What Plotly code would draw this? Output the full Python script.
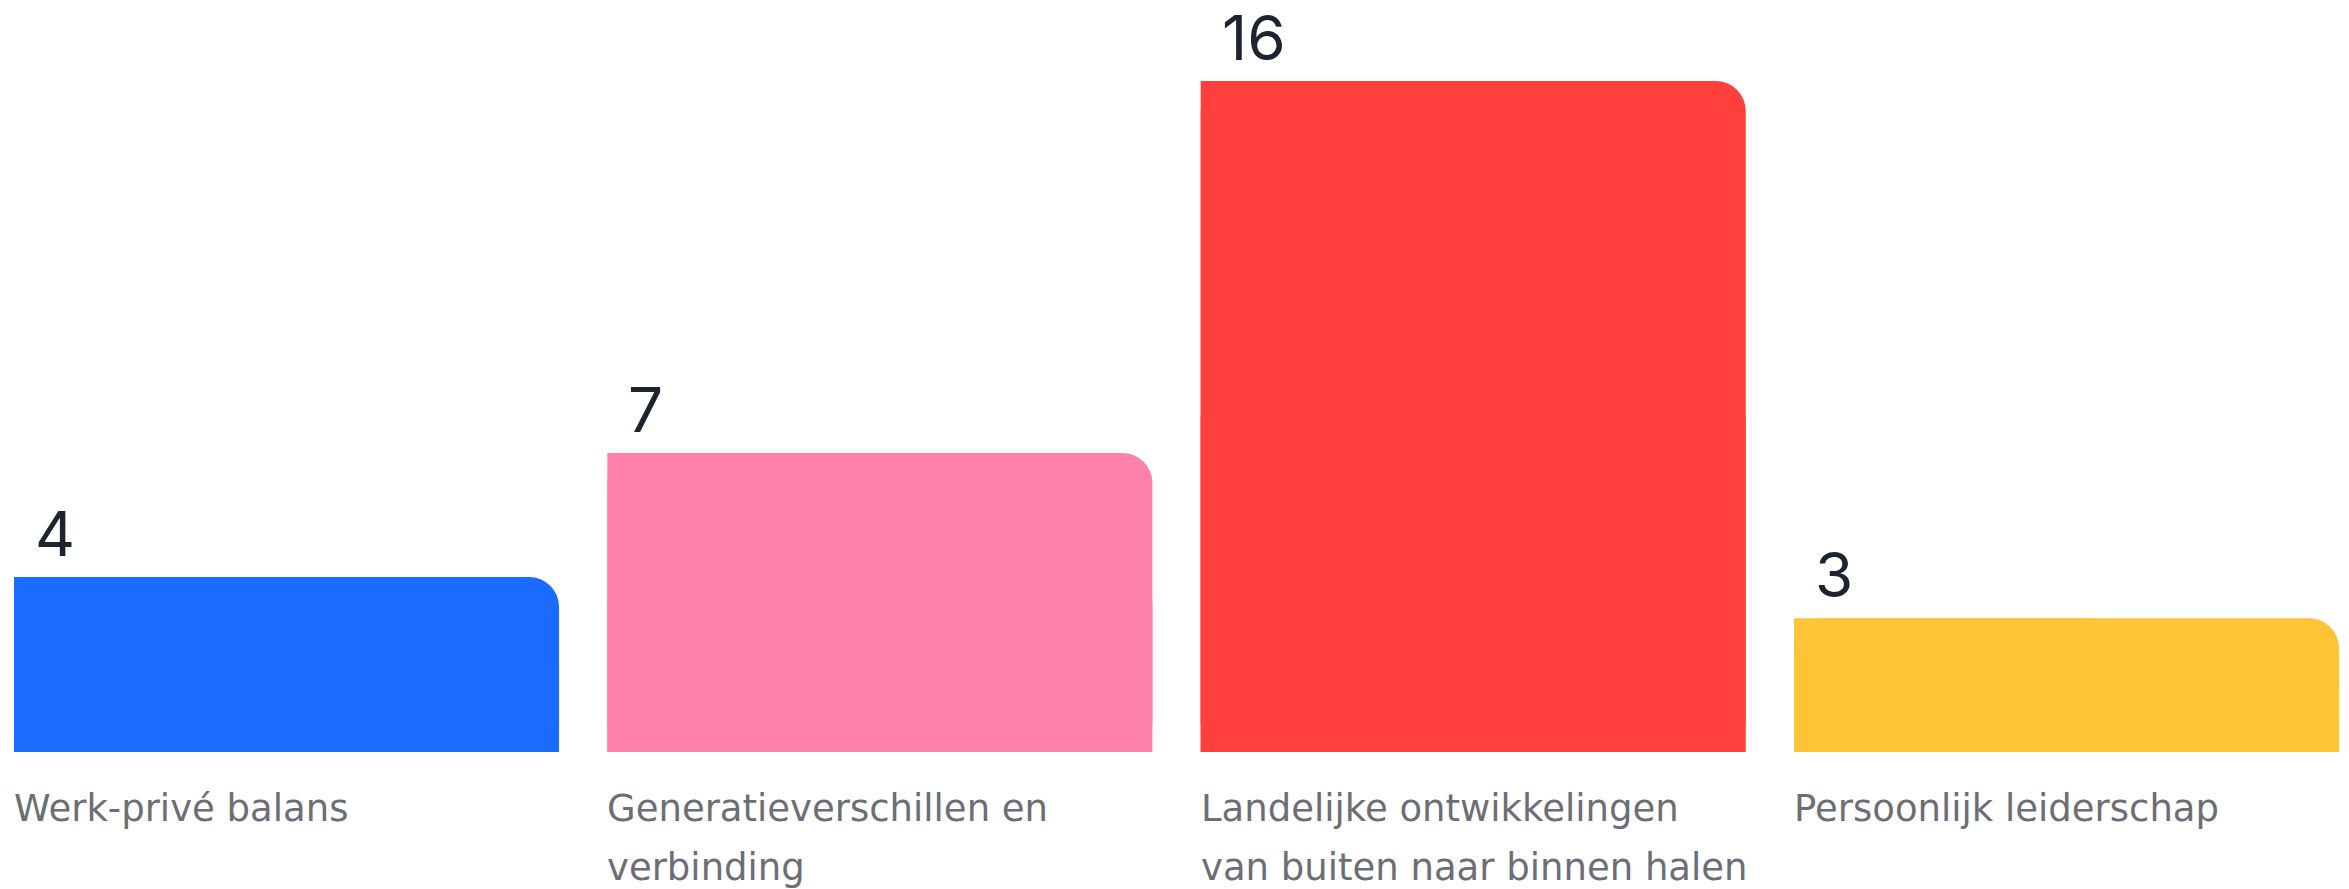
import textwrap
import plotly.graph_objects as go

categories = [
    "Werk-privé balans",
    "Generatieverschillen en verbinding",
    "Landelijke ontwikkelingen van buiten naar binnen halen",
    "Persoonlijk leiderschap",
]
values = [4, 7, 16, 3]
colors = ["#196CFF", "#FF80AB", "#FF403D", "#FFC336"]

xs = list(range(len(categories)))
BAR_W = 0.9186
HALF = BAR_W / 2
BASE = -0.235  # small minimum bar stub below zero, as in the reference
n = len(xs)
heights = [v - BASE for v in values]

fig = go.Figure()
# main bars with rounded corners
fig.add_trace(go.Bar(
    x=xs, y=heights, base=[BASE] * n,
    width=[BAR_W] * n, offset=[-HALF] * n,
    marker=dict(color=colors, line=dict(width=0), cornerradius=30),
    hoverinfo="skip", showlegend=False,
))
# square lower half (keeps bottom corners square)
fig.add_trace(go.Bar(
    x=xs, y=[h / 2 for h in heights], base=[BASE] * n,
    width=[BAR_W] * n, offset=[-HALF] * n,
    marker=dict(color=colors, line=dict(width=0)),
    hoverinfo="skip", showlegend=False,
))
# square left half (keeps top-left corner square)
fig.add_trace(go.Bar(
    x=xs, y=heights, base=[BASE] * n,
    width=[0.5] * n, offset=[-HALF] * n,
    marker=dict(color=colors, line=dict(width=0)),
    hoverinfo="skip", showlegend=False,
))

annotations = []
for i, (v, cat) in enumerate(zip(values, categories)):
    annotations.append(dict(
        x=xs[i] - HALF, y=v, xref="x", yref="y",
        text=str(v), showarrow=False, xanchor="left", yanchor="bottom",
        xshift=20, yshift=5, borderpad=0,
        font=dict(family="Inter, Liberation Sans, sans-serif", size=62, color="#1E2330"),
    ))
    lines = textwrap.wrap(cat, 28)
    for j, line in enumerate(lines):
        annotations.append(dict(
            x=xs[i] - HALF, y=0, xref="x", yref="y",
            text=line, showarrow=False, xanchor="left", yanchor="top",
            xshift=-2, yshift=-43 - 59 * j,
            font=dict(family="DejaVu Sans, Inter, sans-serif", size=37, color="#6C6E76"),
        ))

fig.update_layout(
    width=2349, height=889,
    margin=dict(l=0, r=0, t=0, b=0),
    paper_bgcolor="white", plot_bgcolor="white",
    barmode="overlay",
    xaxis=dict(range=[-0.4829, 3.476], visible=False, fixedrange=True),
    yaxis=dict(range=[-3.549, 17.96], visible=False, fixedrange=True),
    annotations=annotations,
)

fig.write_html(
    "out.html",
    config={"displayModeBar": False},
    post_script="document.body.style.margin='0';document.body.style.overflow='hidden';",
)
